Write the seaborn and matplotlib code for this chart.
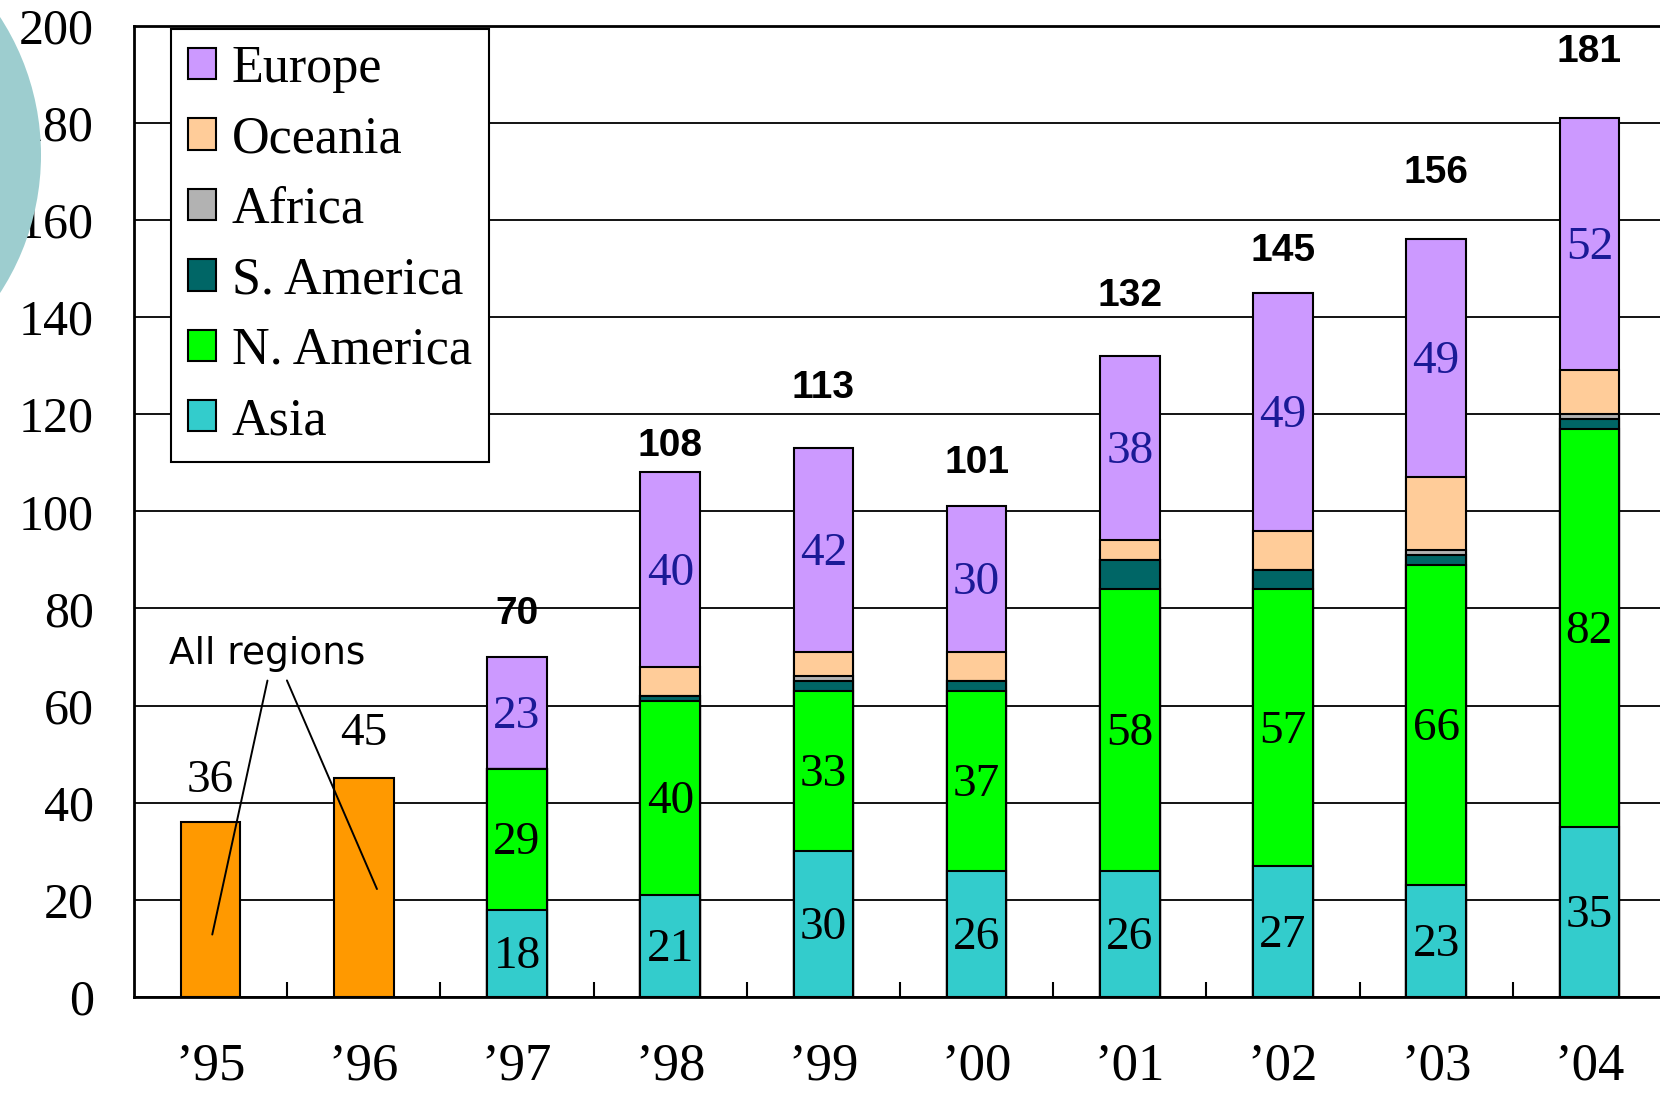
import numpy as np
import matplotlib
matplotlib.use("Agg")
import matplotlib.pyplot as plt
from matplotlib.patches import Patch, Ellipse
import seaborn as sns

# ---- data -------------------------------------------------------------
years = ["’95", "’96", "’97", "’98", "’99", "’00", "’01", "’02", "’03", "’04"]

all_regions_years = ["’95", "’96"]
all_regions = [36, 45]

region_years = ["’97", "’98", "’99", "’00", "’01", "’02", "’03", "’04"]
asia      = [18, 21, 30, 26, 26, 27, 23, 35]
n_america = [29, 40, 33, 37, 58, 57, 66, 82]
s_america = [0, 1, 2, 2, 6, 4, 2, 2]
africa    = [0, 0, 1, 0, 0, 0, 1, 1]
oceania   = [0, 6, 5, 6, 4, 8, 15, 9]
europe    = [23, 40, 42, 30, 38, 49, 49, 52]
totals    = [70, 108, 113, 101, 132, 145, 156, 181]

# where the total labels sit (data units)
total_label_y = [78.8, 113.4, 125.4, 109.9, 144.4, 153.5, 169.6, 194.5]
all_regions_label_y = [44.6, 54.2]

# ---- style ------------------------------------------------------------
sns.set_style("white")
plt.rcParams["font.family"] = ["Liberation Serif", "DejaVu Serif"]
plt.rcParams["text.color"] = "black"
plt.rcParams["xtick.color"] = "black"
plt.rcParams["ytick.color"] = "black"
plt.rcParams["xtick.labelcolor"] = "black"
plt.rcParams["ytick.labelcolor"] = "black"
SERIF = ["Liberation Serif", "DejaVu Serif"]
SANS = ["Liberation Sans", "DejaVu Sans"]

colors = {
    "Europe": "#CC99FF",
    "Oceania": "#FFCC99",
    "Africa": "#B2B2B2",
    "S. America": "#006666",
    "N. America": "#00FF00",
    "Asia": "#33CCCC",
}
ORANGE = "#FF9900"
EUROPE_TXT = "#1a1a96"

fig = plt.figure(figsize=(16.6, 10.95), dpi=100)

# decorative disc at the upper left
fig.patches.append(Ellipse((-212 / 1660, 1 - 155 / 1095), 2 * 253 / 1660, 2 * 253 / 1095,
                           transform=fig.transFigure, facecolor="#9dcdcf",
                           edgecolor="none", zorder=0))

ax = fig.add_axes([134 / 1660, 98 / 1095, 1526 / 1660, 971.5 / 1095])
ax.set_facecolor("none")

BAR_W = 0.39
EDGE_LW = 1.5

# stacked layers: draw cumulative heights from the top layer downwards
layers = [
    ("Asia", asia),
    ("N. America", n_america),
    ("S. America", s_america),
    ("Africa", africa),
    ("Oceania", oceania),
    ("Europe", europe),
]
cum = np.cumsum(np.array([v for _, v in layers], dtype=float), axis=0)
for k in range(len(layers) - 1, -1, -1):
    name = layers[k][0]
    sns.barplot(x=region_years, y=cum[k], order=years, color=colors[name],
                saturation=1, width=BAR_W, edgecolor="black", linewidth=EDGE_LW,
                ax=ax, zorder=3)

sns.barplot(x=all_regions_years, y=all_regions, order=years, color=ORANGE,
            saturation=1, width=BAR_W, edgecolor="black", linewidth=EDGE_LW,
            ax=ax, zorder=3)

# ---- value labels -----------------------------------------------------
for i, yr in enumerate(region_years):
    x = years.index(yr)
    base = 0.0
    for name, vals in layers:
        v = vals[i]
        if name in ("Asia", "N. America", "Europe"):
            ax.text(x, base + v / 2 - 0.8, f"{v}", ha="center", va="center",
                    fontsize=34, family=SERIF,
                    color=EUROPE_TXT if name == "Europe" else "black", zorder=5)
        base += v
    ax.text(x, total_label_y[i], f"{totals[i]}", ha="center", va="center",
            fontsize=28, fontweight="bold", family=SANS, color="black", zorder=5)

for i, yr in enumerate(all_regions_years):
    x = years.index(yr)
    ax.text(x, all_regions_label_y[i], f"{all_regions[i]}", ha="center",
            va="center", fontsize=34, family=SERIF, color="black", zorder=5)

ax.text(0.37, 70.6, "All regions", ha="center", va="center", fontsize=27,
        family=["DejaVu Sans"], color="black", zorder=5)
ax.annotate("", xy=(0.007, 12.3), xytext=(0.375, 65.7),
            arrowprops=dict(arrowstyle="-", lw=1.4, color="black"), zorder=6)
ax.annotate("", xy=(1.093, 21.7), xytext=(0.491, 65.7),
            arrowprops=dict(arrowstyle="-", lw=1.4, color="black"), zorder=6)

# ---- axes -------------------------------------------------------------
ax.set_xlim(-0.5, -0.5 + 1526 / 153.2)
ax.set_ylim(0, 200)
ax.set_xlabel("")
ax.set_ylabel("")

ax.set_yticks(range(0, 201, 20))
ax.yaxis.grid(True, color="black", lw=1.3)
ax.set_axisbelow(True)
ax.tick_params(axis="y", length=0, pad=29, labelsize=36, labelcolor="black")
for lab in ax.get_yticklabels():
    lab.set_family(SERIF)

ax.set_xticks(range(len(years)))
ax.set_xticklabels(years, family=SERIF)
ax.set_xticks(np.arange(0.5, len(years) - 1, 1), minor=True)
ax.tick_params(axis="x", which="major", length=0, pad=33, labelsize=38,
               labelcolor="black")
ax.tick_params(axis="x", which="minor", direction="in", length=11, width=1.5,
               color="black", bottom=True)

for side in ("left", "bottom", "top"):
    ax.spines[side].set_visible(True)
    ax.spines[side].set_color("black")
    ax.spines[side].set_linewidth(2.0)
ax.spines["right"].set_visible(False)

# ---- legend -----------------------------------------------------------
legend_order = ["Europe", "Oceania", "Africa", "S. America", "N. America", "Asia"]
handles = [Patch(facecolor=colors[n], edgecolor="black", linewidth=1.5, label=n)
           for n in legend_order]
leg = ax.legend(handles=handles, loc="upper left",
                bbox_to_anchor=(37 / 1526, 1 - 3 / 971.5), borderaxespad=0,
                frameon=True, fancybox=False, framealpha=1, edgecolor="black",
                prop={"family": SERIF, "size": 37.5},
                handlelength=0.55, handleheight=0.55, handletextpad=0.3,
                labelspacing=0.43, borderpad=0.32)
leg.get_frame().set_linewidth(1.5)
leg.set_zorder(10)
for t in leg.get_texts():
    t.set_color("black")

fig.savefig("out.png", dpi=100)
